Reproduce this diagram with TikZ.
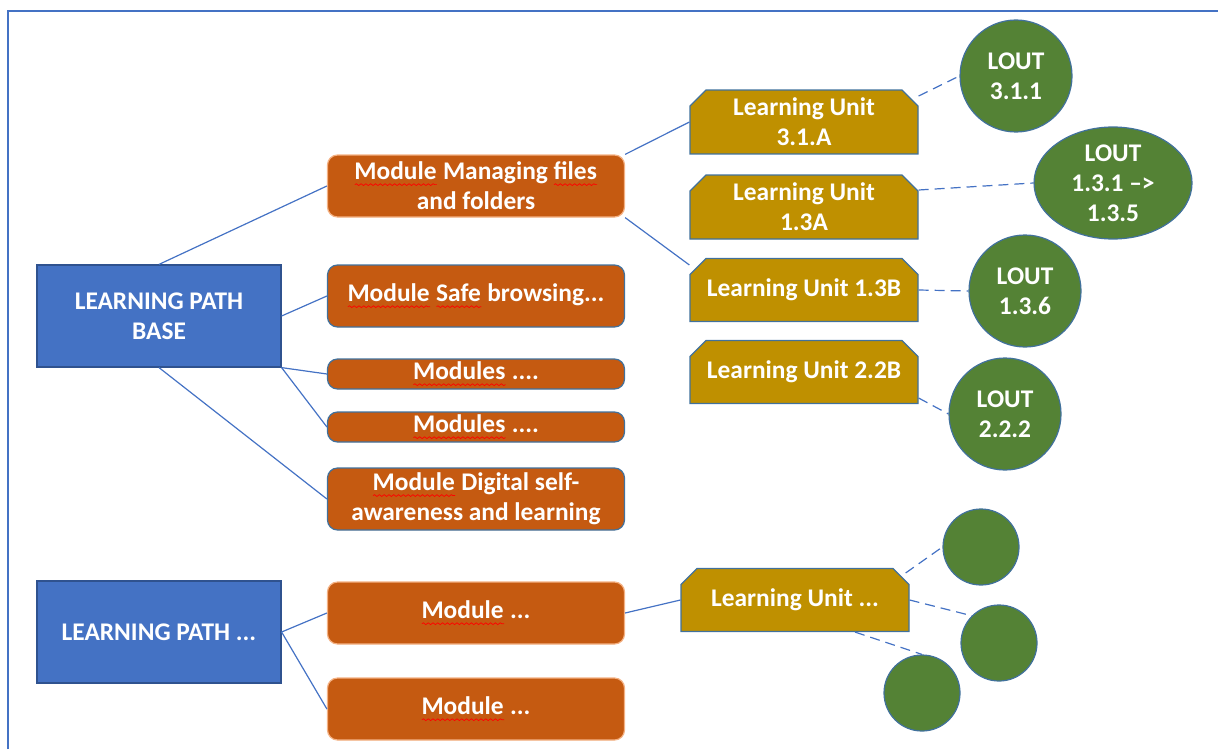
\documentclass[tikz,border=0pt]{standalone}
\usepackage{fontspec}
\setmainfont{Carlito}
\usetikzlibrary{calc}
\usetikzlibrary{shapes.misc}
\usetikzlibrary{shapes.geometric}
\usetikzlibrary{decorations.pathmorphing}

\definecolor{pathblue}{HTML}{4472C4}
\definecolor{pathedge}{HTML}{2F528F}
\definecolor{modorange}{HTML}{C55A11}
\definecolor{modedge}{HTML}{F4B183}
\definecolor{unitgold}{HTML}{BF9000}
\definecolor{loutgreen}{HTML}{548235}
\definecolor{greyblue}{HTML}{41719C}

% spell-check squiggle under a word
\newlength\squigwd
\newcommand{\squig}[1]{\settowidth{\squigwd}{#1}\rlap{#1}\tikz[baseline=0pt, x=1pt, y=1pt, sharp corners]\draw[red, line width=0.35pt, decorate, decoration={snake, amplitude=0.45pt, segment length=2.4pt}] (0pt,-2.4pt) -- (\squigwd,-2.4pt);}

\tikzset{
  boxtext/.style={text=white, font=\bfseries\fontsize{12.7}{15}\selectfont, align=center, inner sep=0pt},
  lpath/.style={boxtext, draw=pathedge, fill=pathblue, line width=0.6pt, minimum width=122pt, minimum height=51pt},
  module/.style={boxtext, draw=greyblue, fill=modorange, line width=0.6pt, rounded corners=5pt, minimum width=148.5pt, minimum height=31pt},
  thinmod/.style={module, minimum height=15pt},
  unit/.style={boxtext, draw=greyblue, fill=unitgold, line width=0.6pt, chamfered rectangle, chamfered rectangle corners={north west,north east}, chamfered rectangle xsep=4pt, chamfered rectangle ysep=4pt, minimum width=114pt, minimum height=31.5pt},
  lout/.style={boxtext, draw=greyblue, fill=loutgreen, line width=0.6pt, circle, minimum size=56pt},
  dot/.style={lout, minimum size=38pt},
  link/.style={pathblue, line width=0.6pt},
  dlink/.style={link, dash pattern=on 5pt off 3pt}
}

\begin{document}
\begin{tikzpicture}[x=0.5pt, y=-0.5pt]
\useasboundingbox (0,0) rectangle (1218,749);
\draw[pathblue, line width=1.2pt] (8,749) -- (8,11) -- (1218,11);

\node[lpath] (base) at (159,316) {LEARNING PATH\\BASE};
\node[lpath] (lpx) at (159,632) {LEARNING PATH ...};

\node[module, draw=modedge] (mm) at (476,186) {\squig{Module} Managing \squig{files}\\and folders};
\node[module] (ms) at (476,296) {\squig{Module} \squig{Safe} browsing...};
\node[thinmod] (mod1) at (476,374) {\squig{Modules} ....};
\node[thinmod] (mod2) at (476,427) {\squig{Modules} ....};
\node[module] (md) at (476,499) {\squig{Module} Digital self-\\awareness and learning};
\node[module, draw=modedge] (mx1) at (476,613) {\squig{Module} ...};
\node[module, draw=modedge] (mx2) at (476,709) {\squig{Module} ...};

\node[unit] (lu31a) at (804,122) {Learning Unit\\3.1.A};
\node[unit] (lu13a) at (804,207) {Learning Unit\\1.3A};
\node[unit] (lu13b) at (804,290) {Learning Unit 1.3B};
\node[unit] (lu22b) at (804,372) {Learning Unit 2.2B};
\node[unit] (lux) at (795,600) {Learning Unit ...};

\node[lout] (l311) at (1016,76) {LOUT\\3.1.1};
\node[lout, ellipse, minimum width=79pt, minimum height=56pt] (l135) at (1113,183) {LOUT\\1.3.1 \textendash>\\1.3.5};
\node[lout] (l136) at (1025,291) {LOUT\\1.3.6};
\node[lout] (l222) at (1005,414) {LOUT\\2.2.2};
\node[dot] (c1) at (981,547) {};
\node[dot] (c2) at (999,643) {};
\node[dot] (c3) at (922,693) {};

\draw[link] (base.north) -- (mm.west);
\draw[link] (base.east) -- (ms.west);
\draw[link] (base.south east) -- (mod1.west);
\draw[link] (base.south east) -- (mod2.west);
\draw[link] (base.south) -- (md.west);
\draw[link] (lpx.east) -- (mx1.west);
\draw[link] (lpx.east) -- (mx2.west);
\draw[link] (mm.north east) -- (lu31a.west);
\draw[link] (mm.south east) -- ($(lu13b.west)+(0,-25)$);
\draw[link] (mx1.east) -- (lux.west);

\draw[dlink] ($(lu31a.east)+(0,-26)$) -- (l311.west);
\draw[dlink] ($(lu13a.east)+(0,-17)$) -- (l135.west);
\draw[dlink] (lu13b.east) -- (l136.west);
\draw[dlink] ($(lu22b.east)+(0,26)$) -- (l222.west);
\draw[dlink] ($(lux.east)+(-4,-27)$) -- (c1.west);
\draw[dlink] (lux.east) -- (c2.north west);
\draw[dlink] ($(lux.south)+(60,0)$) -- (c3.north);
\end{tikzpicture}
\end{document}
